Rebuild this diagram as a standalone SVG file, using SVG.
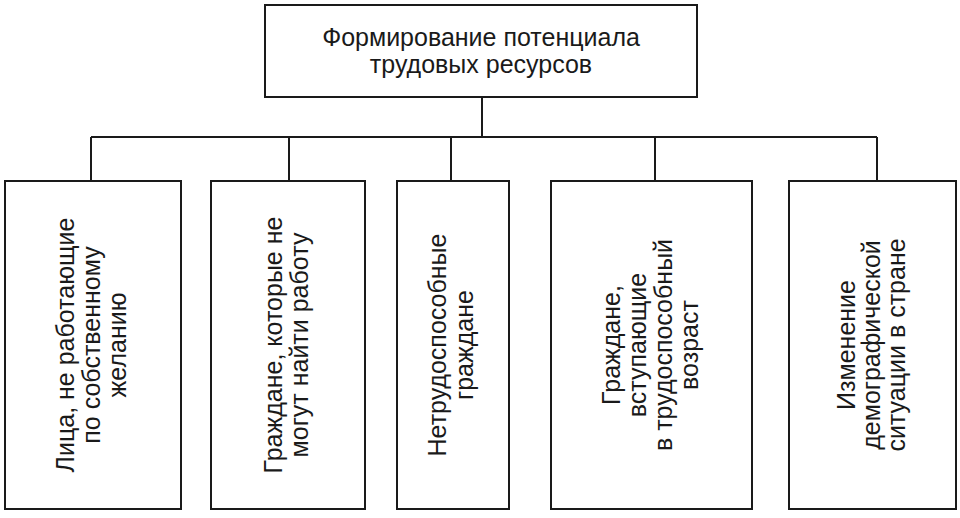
<svg xmlns="http://www.w3.org/2000/svg" width="960" height="518" viewBox="0 0 960 518">
<style>
.box{fill:#fff;stroke:#1a1a1a;stroke-width:2}
.ln{fill:none;stroke:#1a1a1a;stroke-width:2}
text{font-family:"Liberation Sans",Arial,sans-serif;font-size:25px;fill:#1a1a1a;text-anchor:middle}
</style>
<rect width="960" height="518" fill="#fff"/>
<g id="connectors">
<path class="ln" d="M482 97V137M91 137H877M91 137V181M289 137V181M451 137V181M655 137V181M877 137V181"/>
</g>
<g id="top">
<rect class="box" x="265" y="5" width="432" height="92"/>
<text x="481" y="46">Формирование потенциала</text>
<text x="481" y="73">трудовых ресурсов</text>
</g>
<g id="n1">
<rect class="box" x="5" y="181" width="176" height="328"/>
<g transform="translate(93,345) rotate(-90)">
<text x="0" y="-19">Лица, не работающие</text>
<text x="0" y="7">по собственному</text>
<text x="0" y="33">желанию</text>
</g>
</g>
<g id="n2">
<rect class="box" x="211" y="181" width="154" height="328"/>
<g transform="translate(288,345) rotate(-90)">
<text x="0" y="-6">Граждане, которые не</text>
<text x="0" y="20">могут найти работу</text>
</g>
</g>
<g id="n3">
<rect class="box" x="397" y="181" width="112" height="328"/>
<g transform="translate(453,345) rotate(-90)">
<text x="0" y="-7">Нетрудоспособные</text>
<text x="0" y="20">граждане</text>
</g>
</g>
<g id="n4">
<rect class="box" x="551" y="181" width="201" height="328"/>
<g transform="translate(651.5,345) rotate(-90)">
<text x="0" y="-32">Граждане,</text>
<text x="0" y="-6">вступающие</text>
<text x="0" y="20">в трудоспособный</text>
<text x="0" y="46">возраст</text>
</g>
</g>
<g id="n5">
<rect class="box" x="789" y="181" width="167" height="328"/>
<g transform="translate(872.5,345) rotate(-90)">
<text x="0" y="-18">Изменение</text>
<text x="0" y="7">демографической</text>
<text x="0" y="32">ситуации в стране</text>
</g>
</g>
</svg>
